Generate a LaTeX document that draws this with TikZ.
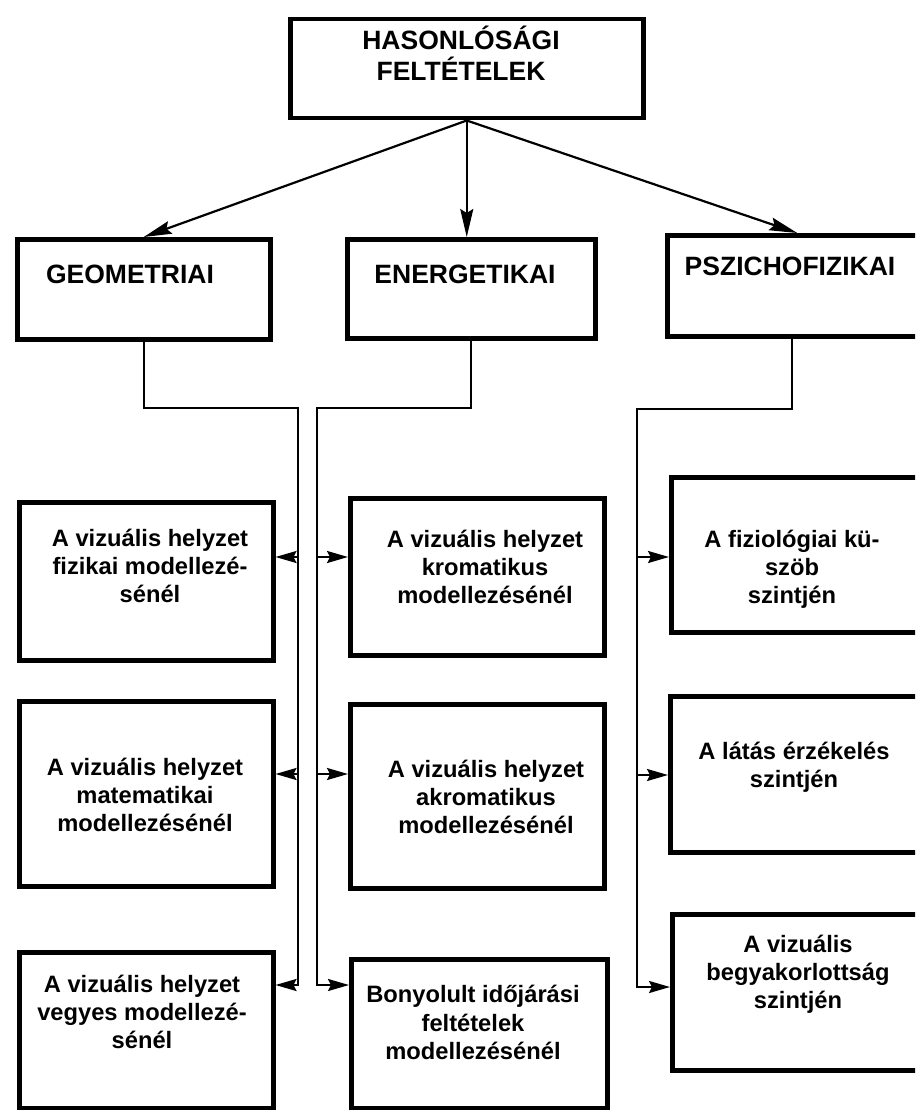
\documentclass[tikz,border=0pt]{standalone}
\usepackage{fontspec}
\setmainfont{Liberation Sans}
\usetikzlibrary{arrows.meta}
\newlength{\boxrule}
\setlength{\boxrule}{4.5pt}
\newlength{\linkrule}
\setlength{\linkrule}{2.2pt}
\newcommand{\headfont}{\fontsize{26.5}{31}\selectfont\bfseries}
\newcommand{\cellfont}{\fontsize{23.7}{28.3}\selectfont\bfseries}
\newcommand{\topline}{\rule{0pt}{1em}}

\begin{document}
\begin{tikzpicture}[x=1pt,y=-1pt]
  \tikzstyle{box}=[draw, line width=\boxrule, anchor=north west, inner sep=0pt]
  \tikzstyle{headtext}=[font=\headfont, align=center, anchor=north, inner sep=0pt]
  \tikzstyle{celltext}=[font=\cellfont, align=center, anchor=north, inner sep=0pt]
  \tikzstyle{link}=[line width=\linkrule]
  \tikzstyle{feed}=[link, -{Stealth[length=28pt,width=13pt,inset=4pt]}]
  \tikzstyle{branch}=[link, -{Stealth[length=21pt,width=12pt,inset=3pt]}]
  \useasboundingbox (0,0) rectangle (915,1110);
  \clip (0,0) rectangle (915,1110);

  % top and second row
  \node[box, minimum width=353, minimum height=99] (hason) at (288,17) {};
  \node[box, minimum width=253, minimum height=100] (geo) at (15,237) {};
  \node[box, minimum width=248, minimum height=99] (ener) at (345,237) {};
  \node[box, minimum width=260, minimum height=101] (pszi) at (665,233) {};
  \node[headtext] (hasontext) at (461,23) {\topline HASONLÓSÁGI\\FELTÉTELEK};
  \node[headtext] (geotext) at (130,256.5) {\topline GEOMETRIAI};
  \node[headtext] (enertext) at (465,256.5) {\topline ENERGETIKAI};
  \node[headtext] (pszitext) at (790,248.5) {\topline PSZICHOFIZIKAI};

  % lower boxes
  \node[box, minimum width=254, minimum height=158] (fiz) at (17,500) {};
  \node[box, minimum width=254, minimum height=185] (mat) at (17,699) {};
  \node[box, minimum width=254, minimum height=156] (veg) at (17,950) {};
  \node[box, minimum width=254, minimum height=157] (krom) at (348,496) {};
  \node[box, minimum width=254, minimum height=184] (akrom) at (348,702) {};
  \node[box, minimum width=256, minimum height=149] (bony) at (349,957) {};
  \node[box, minimum width=256, minimum height=155] (fizi) at (669,475) {};
  \node[box, minimum width=257, minimum height=156] (latas) at (668,694) {};
  \node[box, minimum width=255, minimum height=156] (begy) at (670,912) {};

  \node[celltext] (fiztext) at (150,522.3) {\topline A vizuális helyzet\\fizikai modellezé-\\sénél};
  \node[celltext] (mattext) at (145,751.3) {\topline A vizuális helyzet\\matematikai\\modellezésénél};
  \node[celltext] (vegtext) at (142,968.3) {\topline A vizuális helyzet\\vegyes modellezé-\\sénél};
  \node[celltext] (kromtext) at (485,523.3) {\topline A vizuális helyzet\\kromatikus\\modellezésénél};
  \node[celltext] (akromtext) at (486,753.3) {\topline A vizuális helyzet\\akromatikus\\modellezésénél};
  \node[celltext] (bonytext) at (473,979) {\topline Bonyolult időjárási\\feltételek\\modellezésénél};
  \node[celltext] (fizitext) at (792,523.3) {\topline A fiziológiai kü-\\szöb\\szintjén};
  \node[celltext] (latastext) at (794,735.3) {\topline A látás érzékelés\\szintjén};
  \node[celltext] (begytext) at (798,928.3) {\topline A vizuális\\begyakorlottság\\szintjén};

  % arrows from the top box
  \draw[feed] (hason.south) -- (geo.north);
  \draw[feed] (hason.south) -- (ener.north -| hason.south);
  \draw[feed] (hason.south) -- (pszi.north);

  % trunks
  \coordinate (gknee) at (298,408);
  \coordinate (gfoot) at (298,986);
  \coordinate (eknee) at (317,408);
  \coordinate (efoot) at (317,986);
  \coordinate (pknee) at (637,409);
  \coordinate (pfoot) at (637,988);
  \draw[link] (geo.south) |- (gknee) -- (gfoot);
  \draw[link] (ener.south) |- (eknee) -- (efoot);
  \draw[link] (pszi.south -| 792,0) |- (pknee) -- (pfoot);

  % branches
  \foreach \b/\y in {fiz/557, mat/774, veg/985}
  {
    \coordinate (g\b) at (298,\y);
    \draw[branch] (g\b) -- (g\b -| \b.east);
  }
  \foreach \b/\y in {krom/557, akrom/774, bony/985}
  {
    \coordinate (e\b) at (317,\y);
    \draw[branch] (e\b) -- (e\b -| \b.west);
  }
  \foreach \b/\y in {fizi/557, latas/775, begy/987}
  {
    \coordinate (p\b) at (637,\y);
    \draw[branch] (p\b) -- (p\b -| \b.west);
  }
\end{tikzpicture}
\end{document}
